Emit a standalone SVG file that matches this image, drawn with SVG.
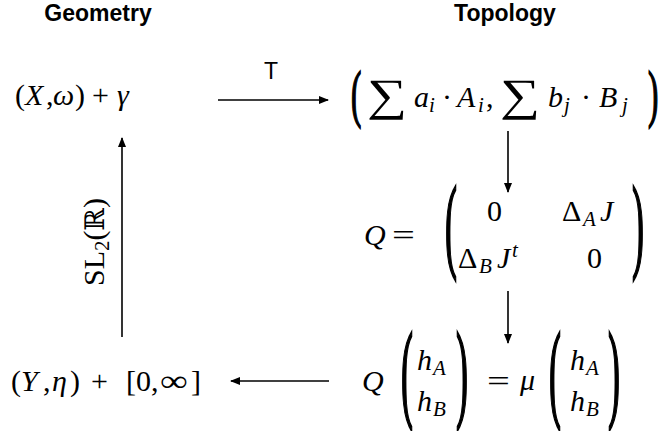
<svg xmlns="http://www.w3.org/2000/svg" width="670" height="431" viewBox="0 0 670 431">
<style>
.t{font-family:"Liberation Sans",Arial,sans-serif;font-weight:bold;font-size:23px;fill:#000}
.s{font-family:"Liberation Sans",Arial,sans-serif;font-size:23px;fill:#000}
.m{font-family:"Liberation Serif","Times New Roman",serif;font-size:30px;fill:#000}
.i{font-style:italic}
.sub{font-size:21px}
.bb{font-family:"DejaVu Serif","Liberation Serif",serif;font-size:27px}
.d{font-family:"Liberation Serif","Times New Roman",serif;fill:#000;stroke:#000;stroke-width:0.9}
.sg{font-family:"Liberation Serif","Times New Roman",serif;font-size:45px;fill:#000}
.ln{stroke:#000;stroke-width:1.6;fill:none}
</style>
<defs>
<marker id="ah" markerWidth="10" markerHeight="8" refX="9" refY="4" orient="auto" markerUnits="userSpaceOnUse">
<path d="M0,0 L10,4 L0,8 z" fill="#000"/>
</marker>
</defs>

<g id="title-geometry"><text class="t" x="98" y="21" text-anchor="middle">Geometry</text></g>
<g id="title-topology"><text class="t" x="505" y="21" text-anchor="middle">Topology</text></g>

<g id="connectors">
<line class="ln" x1="218" y1="100" x2="328" y2="100" marker-end="url(#ah)"/>
<text class="s" x="271" y="79" text-anchor="middle">T</text>
<line class="ln" x1="508" y1="131" x2="508" y2="192" marker-end="url(#ah)"/>
<line class="ln" x1="508" y1="291" x2="508" y2="343" marker-end="url(#ah)"/>
<line class="ln" x1="329" y1="381" x2="231" y2="381" marker-end="url(#ah)"/>
<line class="ln" x1="122" y1="337" x2="122" y2="138" marker-end="url(#ah)"/>
<text class="m" font-size="28" transform="translate(104,286) rotate(-90)">SL<tspan class="sub" font-size="19" dy="5">2</tspan><tspan dy="-5">(</tspan><tspan class="bb">ℝ</tspan>)</text>
</g>

<g id="node-xw">
<text class="m" y="105"><tspan x="15">(</tspan><tspan x="25" class="i">X</tspan><tspan x="46">,</tspan><tspan x="53" class="i">ω</tspan><tspan x="75">)</tspan><tspan x="92">+</tspan><tspan x="117" class="i">γ</tspan></text>
</g>

<g id="node-sum">
<text class="d" font-size="31" transform="translate(351,115) scale(1,2.05)">(</text>
<text class="d" font-size="31" transform="translate(648,115) scale(1,2.05)">)</text>
<text class="sg" transform="translate(367,110) scale(1.25,1)">∑</text>
<text class="m" y="107"><tspan x="414" class="i">a</tspan><tspan x="429" class="i sub" dy="5">i</tspan><tspan x="442" dy="-5">·</tspan><tspan x="457" class="i">A</tspan><tspan x="478" class="i sub" dy="5">i</tspan><tspan x="486" dy="-5">,</tspan></text>
<text class="sg" transform="translate(500,110) scale(1.25,1)">∑</text>
<text class="m" y="107"><tspan x="548" class="i">b</tspan><tspan x="564" class="i sub" dy="5">j</tspan><tspan x="581" dy="-5">·</tspan><tspan x="599" class="i">B</tspan><tspan x="622" class="i sub" dy="5">j</tspan></text>
</g>

<g id="node-matrix">
<text class="m i" x="364" y="245">Q</text>
<text class="m" transform="translate(392,245) scale(1.35,1)">=</text>
<text class="d" font-size="36" transform="translate(445,259.1) scale(1,2.964)">(</text>
<text class="d" font-size="36" transform="translate(632,259.1) scale(1,2.964)">)</text>
<text class="m" x="487" y="221">0</text>
<text class="m" y="221"><tspan x="562">Δ</tspan><tspan x="583" class="i sub" dy="5">A</tspan><tspan x="600" class="i" dy="-5">J</tspan></text>
<text class="m" y="268"><tspan x="458">Δ</tspan><tspan x="479" class="i sub" dy="5">B</tspan><tspan x="497" class="i" dy="-5">J</tspan><tspan x="512" class="i sub" dy="-11">t</tspan></text>
<text class="m" x="587" y="268">0</text>
</g>

<g id="node-eigen">
<text class="m i" x="362" y="391">Q</text>
<text class="d" font-size="36" transform="translate(401,407.5) scale(1,3.06)">(</text>
<text class="d" font-size="36" transform="translate(456,407.5) scale(1,3.06)">)</text>
<text class="m" y="370"><tspan x="417" class="i">h</tspan><tspan x="433" class="i sub" dy="5">A</tspan></text>
<text class="m" y="411"><tspan x="417" class="i">h</tspan><tspan x="433" class="i sub" dy="5">B</tspan></text>
<text class="m" transform="translate(487,391) scale(1.35,1)">=</text>
<text class="m i" x="520" y="390">μ</text>
<text class="d" font-size="36" transform="translate(549,407.5) scale(1,3.06)">(</text>
<text class="d" font-size="36" transform="translate(608,407.5) scale(1,3.06)">)</text>
<text class="m" y="370"><tspan x="570" class="i">h</tspan><tspan x="586" class="i sub" dy="5">A</tspan></text>
<text class="m" y="411"><tspan x="570" class="i">h</tspan><tspan x="586" class="i sub" dy="5">B</tspan></text>
</g>

<g id="node-yeta">
<text class="m" y="391"><tspan x="11">(</tspan><tspan x="21" class="i">Y</tspan><tspan x="43">,</tspan><tspan x="52" class="i">η</tspan><tspan x="70">)</tspan><tspan x="91">+</tspan><tspan x="126">[0,</tspan></text>
<text class="m" transform="translate(160,391) scale(1.3,1)">∞</text>
<text class="m" x="191" y="391">]</text>
</g>
</svg>
